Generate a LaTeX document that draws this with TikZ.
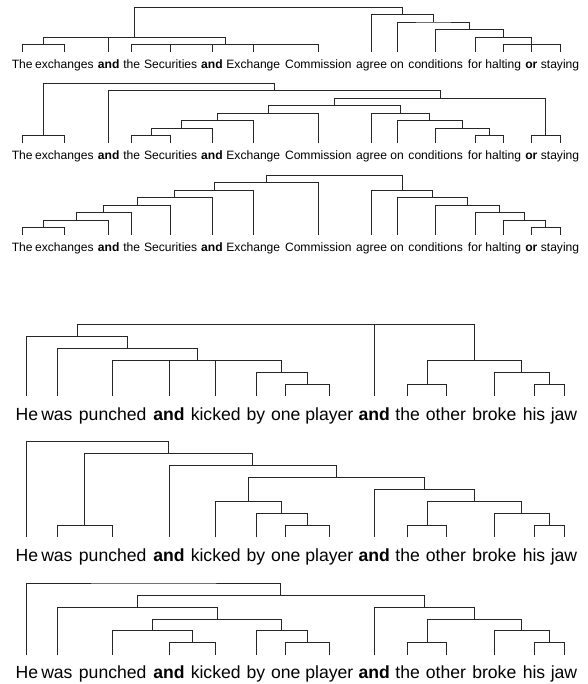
\documentclass[tikz,border=0pt]{standalone}
\usepackage{fontspec}
\setmainfont{Liberation Sans}
\usetikzlibrary{calc}

\newcommand{\treebase}{0}
\newcommand{\levgap}{0}
\newcommand{\merge}[4]{%
  \path let \p1=($(#3)!0.5!(#4)$), \p2=(0,{\treebase-#2*\levgap}) in
    coordinate (#1) at (\x1,\y2);
  \draw (#3) |- (#1) -| (#4);
}
\newcommand{\drop}[2]{\draw (#1) -- (#1 |- #2);}
\newcommand{\topwords}[1]{%
  \foreach \n/\x/\w in {1/22.2/The, 2/64.3/exchanges, 3/108.7/\textbf{and},
      4/131.7/the, 5/170.7/Securities, 6/212/\textbf{and}, 7/253.3/Exchange,
      8/318.3/Commission, 9/371.7/agree, 10/397/on, 11/435.7/conditions,
      12/475/for, 13/503.3/halting, 14/531.3/\textbf{or}, 15/560/staying}
    \node[topword] (#1\n) at (\x,\treebase) {\w};
}
\newcommand{\lowwords}[1]{%
  \foreach \n/\x/\w in {1/26.8/He, 2/56.9/was, 3/112.7/punched, 4/169/\textbf{and},
      5/215.7/kicked, 6/256/by, 7/285.7/one, 8/329.3/player, 9/374.3/\textbf{and},
      10/407.7/the, 11/446/other, 12/494.3/broke, 13/534/his, 14/564/jaw}
    \node[lowword] (#1\n) at (\x,\treebase) {\w};
}

\begin{document}
\begin{tikzpicture}
[x=1pt,y=-1pt,line width=0.7pt,draw=black!85,%
  topword/.style={anchor=north,inner sep=0pt,text height=15.9pt,
    font=\fontsize{12.1}{14}\selectfont},%
  lowword/.style={anchor=north,inner sep=0pt,text height=23.6pt,
    font=\fontsize{17.6}{21}\selectfont}]
\useasboundingbox (0,0) rectangle (587,684);

% first tree
\renewcommand{\treebase}{51.8}\renewcommand{\levgap}{7.45}
\topwords{a}
\merge{a-te}{1}{a1}{a2}
\merge{a-sec}{1}{a4}{a8}
\foreach \k in {5,6,7} {\drop{a\k}{a-sec}}
\merge{a-l}{2}{a-te}{a-sec}
\drop{a3}{a-l}
\merge{a-hs}{1}{a13}{a15}
\drop{a14}{a-hs}
\merge{a-f}{2}{a12}{a-hs}
\merge{a-c}{3}{a11}{a-f}
\merge{a-o}{4}{a10}{a-c}
\merge{a-r}{5}{a9}{a-o}
\merge{a-top}{6}{a-l}{a-r}

% second tree
\renewcommand{\treebase}{143}
\topwords{b}
\merge{b-te}{1}{b1}{b2}
\merge{b-ts}{1}{b4}{b5}
\merge{b-tsa}{2}{b-ts}{b6}
\merge{b-tse}{3}{b-tsa}{b7}
\merge{b-tsc}{4}{b-tse}{b8}
\merge{b-fh}{1}{b12}{b13}
\merge{b-cf}{2}{b11}{b-fh}
\merge{b-oc}{3}{b10}{b-cf}
\merge{b-ao}{4}{b9}{b-oc}
\merge{b-m}{5}{b-tsc}{b-ao}
\merge{b-os}{1}{b14}{b15}
\merge{b-n}{6}{b-m}{b-os}
\merge{b-an}{7}{b3}{b-n}
\merge{b-top}{8}{b-te}{b-an}

% third tree
\renewcommand{\treebase}{235}
\topwords{c}
\merge{c-1}{1}{c1}{c2}
\foreach \k [count=\h from 2, evaluate=\h as \prv using int(\h-1)] in {3,...,8}
  {\merge{c-\h}{\h}{c-\prv}{c\k}}
\merge{c-os}{1}{c14}{c15}
\merge{c-h}{2}{c13}{c-os}
\merge{c-f}{3}{c12}{c-h}
\merge{c-c}{4}{c11}{c-f}
\merge{c-o}{5}{c10}{c-c}
\merge{c-a}{6}{c9}{c-o}
\merge{c-top}{8}{c-7}{c-a}

% fourth tree
\renewcommand{\treebase}{396.2}\renewcommand{\levgap}{11.95}
\lowwords{d}
\merge{d-op}{1}{d7}{d8}
\merge{d-bo}{2}{d6}{d-op}
\merge{d-pk}{3}{d3}{d-bo}
\foreach \k in {4,5} {\drop{d\k}{d-pk}}
\merge{d-w}{4}{d2}{d-pk}
\merge{d-h}{5}{d1}{d-w}
\merge{d-to}{1}{d10}{d11}
\merge{d-hj}{1}{d13}{d14}
\merge{d-bh}{2}{d12}{d-hj}
\merge{d-r}{3}{d-to}{d-bh}
\merge{d-top}{6}{d-h}{d-r}
\drop{d9}{d-top}

% fifth tree
\renewcommand{\treebase}{537.4}
\lowwords{e}
\merge{e-wp}{1}{e2}{e3}
\merge{e-op}{1}{e7}{e8}
\merge{e-bo}{2}{e6}{e-op}
\merge{e-k}{3}{e5}{e-bo}
\merge{e-to}{1}{e10}{e11}
\merge{e-hj}{1}{e13}{e14}
\merge{e-bh}{2}{e12}{e-hj}
\merge{e-r}{3}{e-to}{e-bh}
\merge{e-ar}{4}{e9}{e-r}
\merge{e-kr}{5}{e-k}{e-ar}
\merge{e-akr}{6}{e4}{e-kr}
\merge{e-n}{7}{e-wp}{e-akr}
\merge{e-top}{8}{e1}{e-n}

% sixth tree
\renewcommand{\treebase}{654.7}
\lowwords{f}
\merge{f-ak}{1}{f4}{f5}
\merge{f-pak}{2}{f3}{f-ak}
\merge{f-op}{1}{f7}{f8}
\merge{f-bo}{2}{f6}{f-op}
\merge{f-pb}{3}{f-pak}{f-bo}
\merge{f-w}{4}{f2}{f-pb}
\merge{f-to}{1}{f10}{f11}
\merge{f-hj}{1}{f13}{f14}
\merge{f-bh}{2}{f12}{f-hj}
\merge{f-r}{3}{f-to}{f-bh}
\merge{f-ar}{4}{f9}{f-r}
\merge{f-m}{5}{f-w}{f-ar}
\merge{f-top}{6}{f1}{f-m}
\end{tikzpicture}
\end{document}
